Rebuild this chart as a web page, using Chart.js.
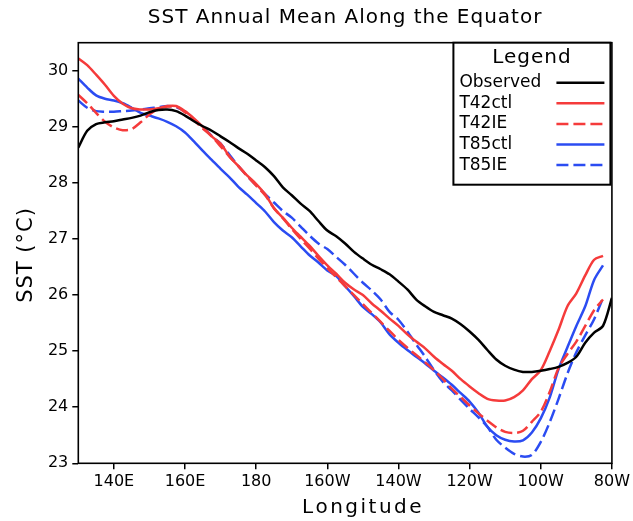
<!DOCTYPE html>
<html>
<head>
<meta charset="utf-8">
<title>SST Annual Mean Along the Equator</title>
<script src="https://cdn.jsdelivr.net/npm/chart.js@4.4.1/dist/chart.umd.min.js"></script>
<style>
  html, body { margin: 0; padding: 0; background: #fff; }
</style>
</head>
<body>
<canvas id="sstChart" width="633" height="521"></canvas>
<script>
// longitude in degrees east (130E .. 280E = 80W)
const longitudes = [
  130, 132.5, 135, 137.5, 140, 142.5, 145, 147.5, 150, 152.5,
  155, 157.5, 160, 162.5, 165, 167.5, 170, 172.5, 175, 177.5,
  180, 182.5, 185, 187.5, 190, 192.5, 195, 197.5, 200, 202.5,
  205, 207.5, 210, 212.5, 215, 217.5, 220, 222.5, 225, 227.5,
  230, 232.5, 235, 237.5, 240, 242.5, 245, 247.5, 250, 252.5,
  255, 257.5, 260, 262.5, 265, 267.5, 270, 272.5, 275, 277.5, 280
];

const observed = [
  28.63, 28.93, 29.05, 29.08, 29.10, 29.13, 29.16, 29.20, 29.26, 29.30,
  29.31, 29.28, 29.20, 29.10, 29.01, 28.93, 28.83, 28.73, 28.62, 28.52,
  28.40, 28.28, 28.12, 27.92, 27.78, 27.63, 27.50, 27.32, 27.15, 27.05,
  26.92, 26.77, 26.65, 26.54, 26.46, 26.37, 26.24, 26.10, 25.92, 25.80,
  25.70, 25.64, 25.58, 25.48, 25.35, 25.20, 25.02, 24.85, 24.74, 24.67,
  24.63, 24.63, 24.65, 24.68, 24.72, 24.79, 24.90, 25.15, 25.33, 25.45, 25.95
];

const t42ctl = [
  30.22, 30.10, 29.93, 29.75, 29.55, 29.41, 29.33, 29.31, 29.31, 29.33,
  29.37, 29.37, 29.28, 29.15, 29.00, 28.83, 28.70, 28.47, 28.30, 28.13,
  27.98, 27.80, 27.55, 27.38, 27.20, 27.04, 26.88, 26.70, 26.53, 26.38,
  26.22, 26.10, 26.00, 25.85, 25.72, 25.58, 25.45, 25.30, 25.17, 25.05,
  24.90, 24.77, 24.65, 24.50, 24.37, 24.25, 24.15, 24.12, 24.12, 24.18,
  24.30, 24.50, 24.66, 25.00, 25.38, 25.80, 26.03, 26.35, 26.63, 26.70, null
];

const t42ie = [
  29.57, 29.42, 29.25, 29.09, 28.99, 28.94, 28.96, 29.08, 29.22, 29.32,
  29.36, 29.36, 29.26, 29.12, 28.97, 28.83, 28.65, 28.47, 28.30, 28.12,
  27.95, 27.78, 27.55, 27.37, 27.18, 27.00, 26.83, 26.65, 26.48, 26.32,
  26.16, 26.00, 25.84, 25.68, 25.52, 25.36, 25.20, 25.06, 24.93, 24.80,
  24.66, 24.50, 24.33, 24.18, 24.03, 23.89, 23.76, 23.64, 23.56, 23.54,
  23.58, 23.74, 23.92, 24.27, 24.70, 24.95, 25.17, 25.45, 25.73, 25.92, null
];

const t85ctl = [
  29.86, 29.70, 29.56, 29.50, 29.47, 29.42, 29.34, 29.25, 29.20, 29.15,
  29.09, 29.01, 28.90, 28.74, 28.57, 28.41, 28.25, 28.10, 27.93, 27.79,
  27.64, 27.49, 27.30, 27.15, 27.03, 26.87, 26.71, 26.58, 26.44, 26.34,
  26.16, 25.98, 25.79, 25.66, 25.51, 25.30, 25.15, 25.02, 24.90, 24.78,
  24.65, 24.53, 24.40, 24.25, 24.10, 23.90, 23.65, 23.50, 23.42, 23.39,
  23.41, 23.55, 23.80, 24.17, 24.68, 25.07, 25.45, 25.80, 26.27, 26.53, null
];

const t85ie = [
  29.47, 29.34, 29.28, 29.27, 29.27, 29.28, 29.29, 29.31, 29.33, 29.35,
  29.37, 29.35, 29.27, 29.13, 29.00, 28.84, 28.70, 28.50, 28.30, 28.12,
  27.96, 27.80, 27.65, 27.50, 27.38, 27.22, 27.06, 26.92, 26.82, 26.68,
  26.54, 26.38, 26.22, 26.08, 25.92, 25.70, 25.56, 25.35, 25.12, 24.90,
  24.66, 24.45, 24.30, 24.13, 23.97, 23.82, 23.65, 23.42, 23.28, 23.17,
  23.12, 23.15, 23.38, 23.73, 24.15, 24.60, 24.98, 25.28, 25.57, 25.95, null
];

const xTickValues = [140, 160, 180, 200, 220, 240, 260, 280];
const xTickLabels = ["140E", "160E", "180", "160W", "140W", "120W", "100W", "80W"];
const yTickValues = [23, 24, 25, 26, 27, 28, 29, 30];

const FONT = '"DejaVu Sans", sans-serif';
const RED = "#f53b3b";
const BLUE = "#2b4cf2";

function toPoints(values) {
  return longitudes.map((lon, i) => ({ x: lon, y: values[i] }));
}

// the original font is spaced wider, so add some letter spacing to the titles
const spacedText = {
  id: "spacedText",
  beforeDraw(chart) {
    if (chart.$spaced) return;
    chart.$spaced = true;
    const wrap = (obj, fn, spacing, dx, dy) => {
      const orig = obj[fn].bind(obj);
      obj[fn] = function (...args) {
        const c = chart.ctx;
        const prev = c.letterSpacing;
        c.save();
        c.translate(dx, dy);
        c.letterSpacing = spacing;
        orig(...args);
        c.letterSpacing = prev;
        c.restore();
      };
    };
    wrap(chart.titleBlock, "draw", "1px", 0, 0);
    wrap(chart.scales.x, "drawTitle", "2.5px", 18, 0);
    wrap(chart.scales.y, "drawTitle", "1px", 0, 2);
  }
};

// frame round the plot area
const plotFrame = {
  id: "plotFrame",
  afterDatasetsDraw(chart) {
    const { ctx, chartArea } = chart;
    ctx.save();
    ctx.strokeStyle = "#000";
    ctx.lineWidth = 1.6;
    ctx.strokeRect(chartArea.left, chartArea.top,
      chartArea.right - chartArea.left, chartArea.bottom - chartArea.top);
    ctx.restore();
  }
};

// boxed legend in the top right corner
const legendBox = {
  id: "legendBox",
  afterDraw(chart) {
    const { ctx, chartArea } = chart;
    const w = 157, h = 142;
    const x0 = chartArea.right - w - 1.5;
    const y0 = chartArea.top;
    ctx.save();
    ctx.fillStyle = "#fff";
    ctx.fillRect(x0, y0, w, h);
    ctx.strokeStyle = "#000";
    ctx.lineWidth = 2;
    ctx.strokeRect(x0, y0, w, h);

    ctx.fillStyle = "#000";
    ctx.textBaseline = "middle";
    ctx.textAlign = "center";
    ctx.font = "20px " + FONT;
    ctx.letterSpacing = "1px";
    ctx.fillText("Legend", x0 + w / 2, y0 + 15.5);
    ctx.letterSpacing = "0px";

    ctx.textAlign = "left";
    ctx.font = "17px " + FONT;
    chart.data.datasets.forEach((ds, i) => {
      const y = y0 + 40 + i * 20.6;
      ctx.fillStyle = "#000";
      ctx.fillText(ds.label, x0 + 6, y);
      ctx.beginPath();
      ctx.setLineDash(ds.borderDash || []);
      ctx.strokeStyle = ds.borderColor;
      ctx.lineWidth = 2.5;
      ctx.moveTo(x0 + 103, y);
      ctx.lineTo(x0 + 151, y);
      ctx.stroke();
    });
    ctx.restore();
  }
};

function lineSet(label, values, color, dash) {
  return {
    label: label,
    data: toPoints(values),
    borderColor: color,
    borderWidth: 2.5,
    borderDash: dash,
    pointRadius: 0,
    tension: 0.3,
    fill: false,
    spanGaps: false
  };
}

const ctx = document.getElementById("sstChart").getContext("2d");
const sstChart = new Chart(ctx, {
  type: "line",
  data: {
    datasets: [
      lineSet("Observed", observed, "#000", []),
      lineSet("T42ctl", t42ctl, RED, []),
      lineSet("T42IE", t42ie, RED, [12, 5]),
      lineSet("T85ctl", t85ctl, BLUE, []),
      lineSet("T85IE", t85ie, BLUE, [12, 5])
    ]
  },
  options: {
    responsive: false,
    animation: false,
    devicePixelRatio: 1,
    layout: { padding: { left: 0, right: 17.6, top: 0, bottom: 0 } },
    plugins: {
      legend: { display: false },
      tooltip: { enabled: false },
      title: {
        display: true,
        fullSize: false,
        text: "SST Annual Mean Along the Equator",
        color: "#000",
        font: { family: FONT, size: 20, weight: "normal" },
        padding: { top: 6, bottom: 12.7 }
      }
    },
    scales: {
      x: {
        type: "linear",
        min: 130,
        max: 280,
        afterBuildTicks: (scale) => {
          scale.ticks = xTickValues.map((v) => ({ value: v }));
        },
        afterFit: (scale) => { scale.height = 57.7; },
        ticks: {
          color: "#000",
          font: { family: FONT, size: 16 },
          padding: 3,
          maxRotation: 0,
          callback: (value, index) => xTickLabels[index]
        },
        grid: { drawOnChartArea: false, drawTicks: true, tickLength: 6, color: "#000", lineWidth: 1.5 },
        border: { display: false },
        title: {
          display: true,
          text: "Longitude",
          color: "#000",
          font: { family: FONT, size: 20 },
          padding: { top: 0, bottom: 1 }
        }
      },
      y: {
        min: 23,
        max: 30.5,
        afterBuildTicks: (scale) => {
          scale.ticks = yTickValues.map((v) => ({ value: v }));
        },
        afterFit: (scale) => { scale.width = 78.3; },
        ticks: {
          color: "#000",
          font: { family: FONT, size: 16 },
          padding: 4
        },
        grid: { drawOnChartArea: false, drawTicks: true, tickLength: 6, color: "#000", lineWidth: 1.5 },
        border: { display: false },
        title: {
          display: true,
          text: "SST (°C)",
          color: "#000",
          font: { family: FONT, size: 21 },
          padding: { top: 14, bottom: 0 }
        }
      }
    }
  },
  plugins: [spacedText, plotFrame, legendBox]
});
</script>
</body>
</html>
